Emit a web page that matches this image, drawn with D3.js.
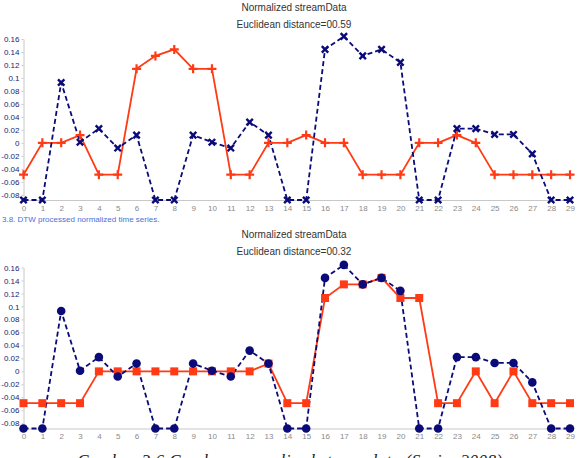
<!DOCTYPE html>
<html>
<head>
<meta charset="utf-8">
<script src="https://cdn.jsdelivr.net/npm/d3@7"></script>
<style>
  body { margin: 0; background: #fff; }
  svg { display: block; font-family: "Liberation Sans", Arial, sans-serif; }
  .title { font-size: 10px; fill: #333; }
  .y-axis text { font-size: 8px; fill: #22226e; }
  .x-axis text { font-size: 8px; fill: #8a8a8a; }
  .y-axis path, .x-axis path, .y-axis line { stroke: #c8c8c8; }
</style>
</head>
<body>
<div id="chart"></div>
<script>
// two stacked charts: raw vs DTW processed normalized streams

const width = 583, height = 458;

const indexes = d3.range(0, 30);
const yTicks = [-0.08, -0.06, -0.04, -0.02, 0, 0.02, 0.04, 0.06, 0.08, 0.1, 0.12, 0.14, 0.16];

// blue dashed series (same stream in both charts)
const streamA = [-0.088, -0.088, 0.093, 0.001, 0.022, -0.008, 0.012, -0.088, -0.088, 0.012,
                 0.001, -0.008, 0.032, 0.012, -0.088, -0.088, 0.144, 0.164, 0.134, 0.144,
                 0.124, -0.088, -0.088, 0.022, 0.022, 0.013, 0.013, -0.017, -0.088, -0.088];

// red series, before DTW
const streamB = [-0.049, 0, 0, 0.012, -0.049, -0.049, 0.114, 0.134, 0.144, 0.114,
                 0.114, -0.049, -0.049, 0, 0, 0.012, 0, 0, -0.049, -0.049,
                 -0.049, 0, 0, 0.012, 0, -0.049, -0.049, -0.049, -0.049, -0.049];

// red series, after DTW
const streamBdtw = [-0.049, -0.049, -0.049, -0.049, 0, 0, 0, 0, 0, 0,
                    0, 0, 0, 0.012, -0.049, -0.049, 0.113, 0.134, 0.134, 0.144,
                    0.113, 0.113, -0.049, -0.049, 0, -0.049, 0, -0.049, -0.049, -0.049];

const panels = [
    { title: "Normalized streamData", subtitle: "Euclidean distance=00.59", blue: streamA, red: streamB,
      titleY: 11, subY: 28, top: 39, bottom: 200, markers: "cross" },
    { title: "Normalized streamData", subtitle: "Euclidean distance=00.32", blue: streamA, red: streamBdtw,
      titleY: 238, subY: 255, top: 267.5, bottom: 428.5, markers: "dot" }
];

const blueColor = "#0a0a78";
const redColor = "#ff3a14";

const svg = d3.select("#chart")
    .append("svg")
    .attr("width", width)
    .attr("height", height);

const x = d3.scaleLinear()
    .domain([0, 29])
    .range([23.5, 570]);

function timesPath(cx, cy, s) {
    return `M${cx - s},${cy - s}L${cx + s},${cy + s}M${cx - s},${cy + s}L${cx + s},${cy - s}`;
}
function plusPath(cx, cy, s) {
    return `M${cx - s},${cy}L${cx + s},${cy}M${cx},${cy - s}L${cx},${cy + s}`;
}

panels.forEach(p => {
    const y = d3.scaleLinear()
        .domain([-0.088, 0.16])
        .range([p.bottom, p.top]);

    const g = svg.append("g");

    g.append("text")
        .attr("class", "title")
        .attr("x", 294)
        .attr("y", p.titleY)
        .attr("text-anchor", "middle")
        .text(p.title);

    g.append("text")
        .attr("class", "title")
        .attr("x", 294)
        .attr("y", p.subY)
        .attr("text-anchor", "middle")
        .text(p.subtitle);

    g.append("g")
        .attr("class", "y-axis")
        .attr("transform", `translate(${x(0)},0)`)
        .call(d3.axisLeft(y)
            .tickValues(yTicks)
            .tickSize(2)
            .tickSizeOuter(0)
            .tickPadding(2)
            .tickFormat(d => String(+d.toFixed(2))));

    g.append("g")
        .attr("class", "x-axis")
        .attr("transform", `translate(0,${p.bottom})`)
        .call(d3.axisBottom(x)
            .tickValues(indexes)
            .tickSize(0)
            .tickPadding(5)
            .tickFormat(d3.format("d")));

    const line = d3.line()
        .x((d, i) => x(i))
        .y(d => y(d));

    g.append("path")
        .datum(p.red)
        .attr("d", line)
        .attr("fill", "none")
        .attr("stroke", redColor)
        .attr("stroke-width", 1.8);

    g.append("path")
        .datum(p.blue)
        .attr("d", line)
        .attr("fill", "none")
        .attr("stroke", blueColor)
        .attr("stroke-width", 1.8)
        .attr("stroke-dasharray", "5,3");

    if (p.markers === "cross") {
        g.selectAll(".red-mark")
            .data(p.red)
            .enter()
            .append("path")
            .attr("class", "red-mark")
            .attr("d", (d, i) => plusPath(x(i), y(d), 4.5))
            .attr("stroke", redColor)
            .attr("stroke-width", 2.2);

        g.selectAll(".blue-mark")
            .data(p.blue)
            .enter()
            .append("path")
            .attr("class", "blue-mark")
            .attr("d", (d, i) => timesPath(x(i), y(d), 3.2))
            .attr("stroke", blueColor)
            .attr("stroke-width", 2.4);
    } else {
        g.selectAll(".red-mark")
            .data(p.red)
            .enter()
            .append("rect")
            .attr("class", "red-mark")
            .attr("x", (d, i) => x(i) - 4)
            .attr("y", d => y(d) - 4)
            .attr("width", 8)
            .attr("height", 8)
            .attr("fill", redColor);

        g.selectAll(".blue-mark")
            .data(p.blue)
            .enter()
            .append("circle")
            .attr("class", "blue-mark")
            .attr("cx", (d, i) => x(i))
            .attr("cy", d => y(d))
            .attr("r", 4.3)
            .attr("fill", blueColor);
    }
});

svg.append("text")
    .attr("x", 2)
    .attr("y", 222)
    .attr("fill", "#4a6fd8")
    .style("font-size", "8px")
    .text("3.8. DTW processed normalized time series.");

// caption is cropped at the bottom edge in the source picture
svg.append("text")
    .attr("x", 290)
    .attr("y", 466)
    .attr("text-anchor", "middle")
    .style("font-family", "'Liberation Serif', 'Times New Roman', serif")
    .style("font-size", "17px")
    .style("font-style", "italic")
    .style("letter-spacing", "0.5px")
    .attr("fill", "#222")
    .text("Gambar 3.6 Gambar normalized streamdata (Sarin, 2008)");
</script>
</body>
</html>
